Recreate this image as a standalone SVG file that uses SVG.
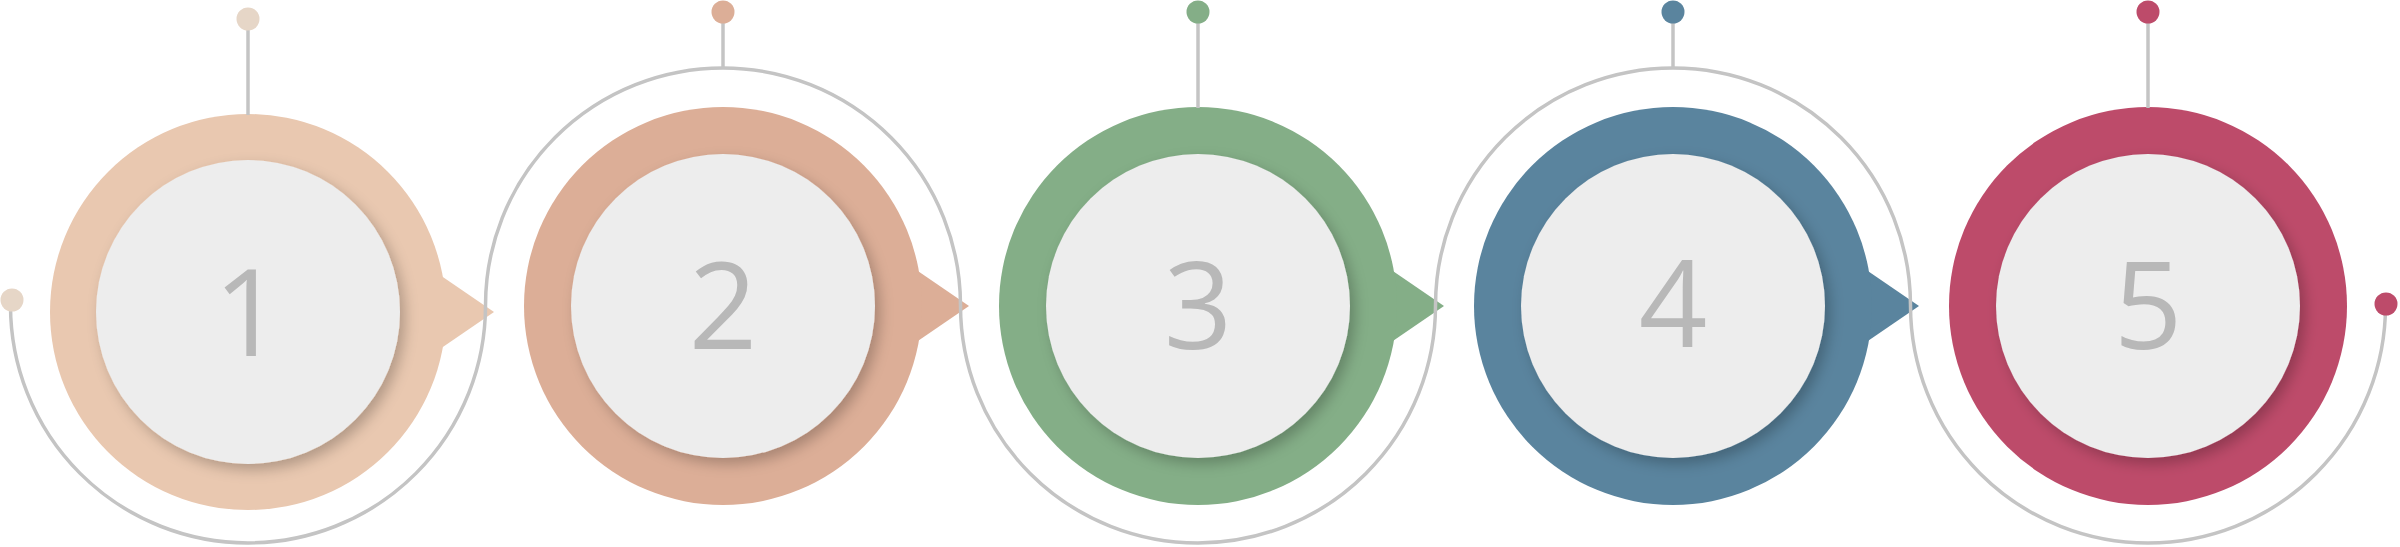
<svg xmlns="http://www.w3.org/2000/svg" width="2400" height="547" viewBox="0 0 2400 547">
  <defs>
    <filter id="sh" x="-20%" y="-20%" width="140%" height="140%">
      <feDropShadow dx="5" dy="6" stdDeviation="7" flood-color="#000" flood-opacity="0.24"/>
    </filter>
  </defs>
  <style>
    .inner { fill: #EDEDED; filter: url(#sh); }
    .num { font-family: "Open Sans", "Liberation Sans", sans-serif; font-size: 120px; fill: #B8B8B8; text-anchor: middle; }
    .line { fill: none; stroke: #C4C4C4; stroke-width: 3.5; }
    .c1 { fill: #E9C8B0; }
    .c1d { fill: #E6D6C7; }
    .c2 { fill: #DCAE97; }
    .c3 { fill: #84AE87; }
    .c4 { fill: #5A849E; }
    .c5 { fill: #BD4B6A; }
  </style>
  <rect width="2400" height="547" fill="#FFFFFF"/>

  <g id="node1">
    <polygon class="c1" points="418,260 494,312 418,364"/>
    <circle class="c1" cx="248" cy="312" r="198"/>
    <circle class="inner" cx="248" cy="312" r="152"/>
    <text class="num" x="248" y="356">1</text>
  </g>
  <g id="node2">
    <polygon class="c2" points="893,254 969,306 893,358"/>
    <circle class="c2" cx="723" cy="306" r="199"/>
    <circle class="inner" cx="723" cy="306" r="152"/>
    <text class="num" x="723" y="349">2</text>
  </g>
  <g id="node3">
    <polygon class="c3" points="1368,254 1444,306 1368,358"/>
    <circle class="c3" cx="1198" cy="306" r="199"/>
    <circle class="inner" cx="1198" cy="306" r="152"/>
    <text class="num" x="1198" y="349">3</text>
  </g>
  <g id="node4">
    <polygon class="c4" points="1843,254 1919,306 1843,358"/>
    <circle class="c4" cx="1673" cy="306" r="199"/>
    <circle class="inner" cx="1673" cy="306" r="152"/>
    <text class="num" x="1673" y="347">4</text>
  </g>
  <g id="node5">
    <circle class="c5" cx="2148" cy="306" r="199"/>
    <circle class="inner" cx="2148" cy="306" r="152"/>
    <text class="num" x="2148" y="349">5</text>
  </g>

  <g id="connectors">
    <path class="line" d="M 10.5,305.5 A 237.5 237.5 0 0 0 485.5,305.5 A 237.5 237.5 0 0 1 960.5,305.5 A 237.5 237.5 0 0 0 1435.5,305.5 A 237.5 237.5 0 0 1 1910.5,305.5 A 237.5 237.5 0 0 0 2385.5,305.5"/>
    <line class="line" x1="248" y1="19" x2="248" y2="115"/>
    <line class="line" x1="723" y1="12" x2="723" y2="69"/>
    <line class="line" x1="1198" y1="12" x2="1198" y2="108"/>
    <line class="line" x1="1673" y1="12" x2="1673" y2="69"/>
    <line class="line" x1="2148" y1="12" x2="2148" y2="108"/>
    <circle class="c1d" cx="248" cy="19" r="11.5"/>
    <circle class="c2" cx="723" cy="12" r="11.5"/>
    <circle class="c3" cx="1198" cy="12" r="11.5"/>
    <circle class="c4" cx="1673" cy="12" r="11.5"/>
    <circle class="c5" cx="2148" cy="12" r="11.5"/>
    <circle class="c1d" cx="12" cy="300" r="11.5"/>
    <circle class="c5" cx="2386" cy="304" r="11.5"/>
  </g>
</svg>
